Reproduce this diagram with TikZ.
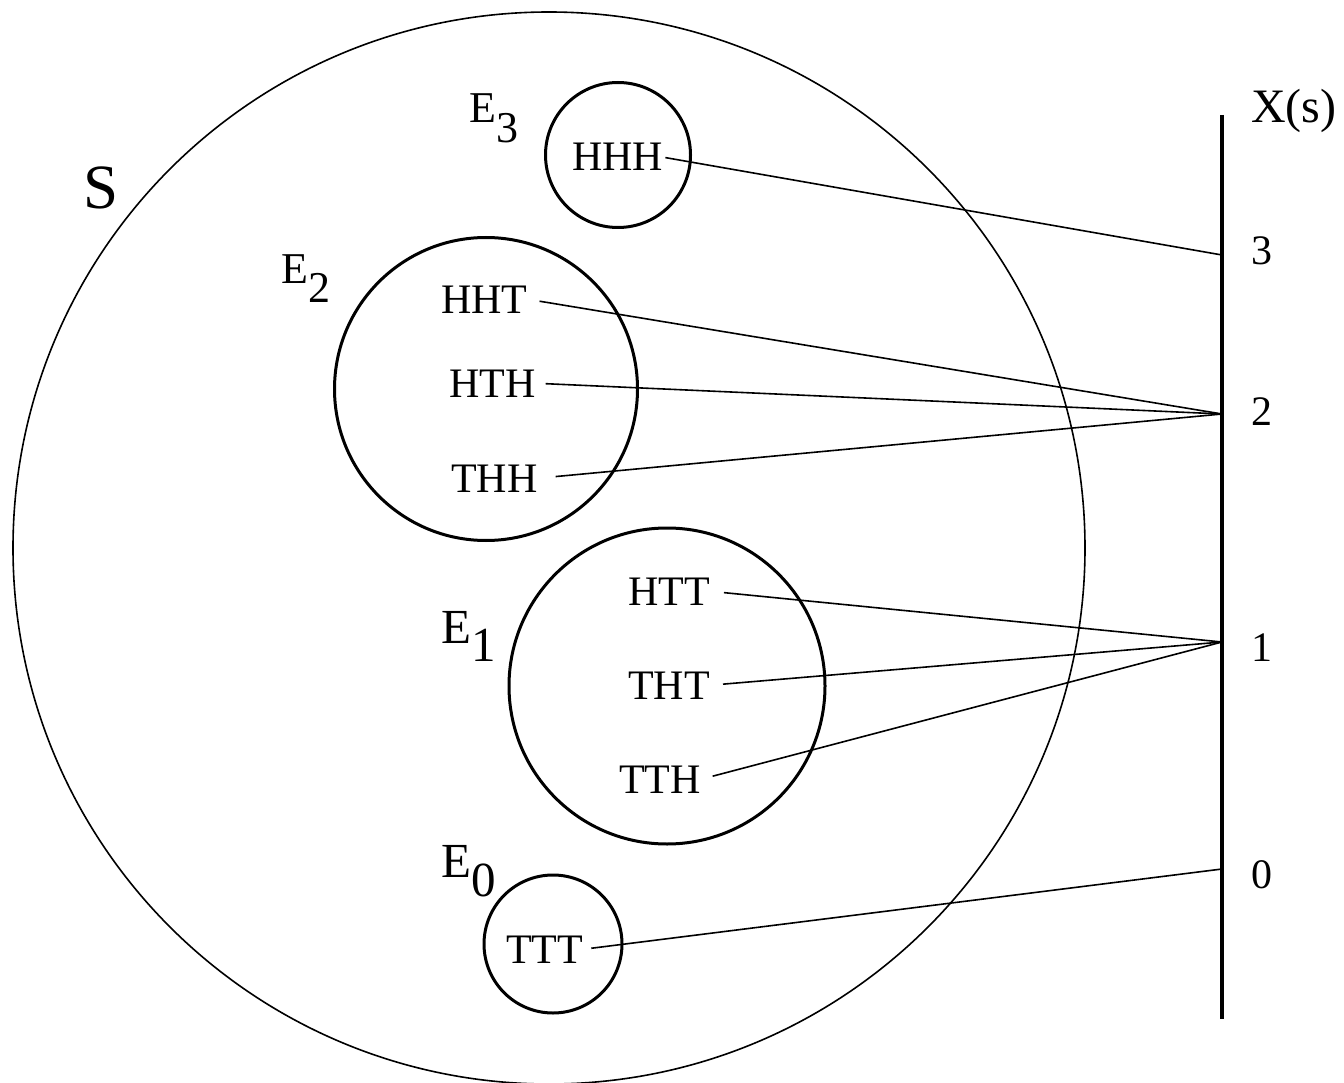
\documentclass[tikz,border=0pt]{standalone}
\usepackage{fontspec}
\setmainfont{Liberation Serif}

\newcommand{\evname}[2]{E\raisebox{-#2}{#1}}

\begin{document}
\begin{tikzpicture}[x=1pt, y=-1pt,
    event/.style={draw, circle, line width=3pt, inner sep=0pt},
    outcome/.style={inner sep=0pt, anchor=base west, font=\fontsize{42}{50}\selectfont},
    evlabel/.style={inner sep=0pt, anchor=base west},
    link/.style={line width=1.6pt}]
        \useasboundingbox (0,0) rectangle (1344,1083);

        % sample space
        \node[draw, circle, line width=1.6pt, inner sep=0pt, minimum size=1072pt] (S) at (549,548) {};
        \node[evlabel, font=\fontsize{63}{70}\selectfont] (Slab) at (83,209) {S};

        % events
        \node[event, minimum size=145pt] (E3) at (618,155) {};
        \node[event, minimum size=303pt] (E2) at (486,389) {};
        \node[event, minimum size=316pt] (E1) at (667,686) {};
        \node[event, minimum size=138pt] (E0) at (553,944) {};

        \node[evlabel, font=\fontsize{44}{52}\selectfont] (E3lab) at (469,123) {\evname{3}{20pt}};
        \node[evlabel, font=\fontsize{44}{52}\selectfont] (E2lab) at (281,284) {\evname{2}{19pt}};
        \node[evlabel, font=\fontsize{49}{56}\selectfont] (E1lab) at (441,643) {\evname{1}{18pt}};
        \node[evlabel, font=\fontsize{49}{56}\selectfont] (E0lab) at (441,877) {\evname{0}{19pt}};

        % outcomes
        \node[outcome] (hhh) at (572,171) {HHH};
        \node[outcome] (hht) at (441,313) {HHT};
        \node[outcome] (hth) at (449,397) {HTH};
        \node[outcome] (thh) at (451,492) {THH};
        \node[outcome] (htt) at (628,605) {HTT};
        \node[outcome] (tht) at (628,699) {THT};
        \node[outcome] (tth) at (619,793) {TTH};
        \node[outcome] (ttt) at (506,963) {TTT};

        % real line
        \coordinate (top) at (1222,115);
        \coordinate (bot) at (1222,1019);
        \coordinate (x3) at (1222,255);
        \coordinate (x2) at (1222,414);
        \coordinate (x1) at (1222,642);
        \coordinate (x0) at (1222,869);
        \draw[line width=4pt] (top) -- (bot);

        \node[outcome] (X) at (1251,123) {\fontsize{48}{56}\selectfont X(s)};
        \node[outcome] (n3) at (1251,265) {3};
        \node[outcome] (n2) at (1251,425) {2};
        \node[outcome] (n1) at (1251,661) {1};
        \node[outcome] (n0) at (1251,888) {0};

        \draw[link, shorten <=2pt] (hhh.east) -- (x3);
        \draw[link, shorten <=12pt] (hht.east) -- (x2);
        \draw[link, shorten <=10pt] (hth.east) -- (x2);
        \draw[link, shorten <=18pt] (thh.east) -- (x2);
        \draw[link, shorten <=14pt] (htt.east) -- (x1);
        \draw[link, shorten <=13pt] (tht.east) -- (x1);
        \draw[link, shorten <=12pt] (tth.east) -- (x1);
        \draw[link, shorten <=8pt] (ttt.east) -- (x0);
      \end{tikzpicture}
\end{document}
